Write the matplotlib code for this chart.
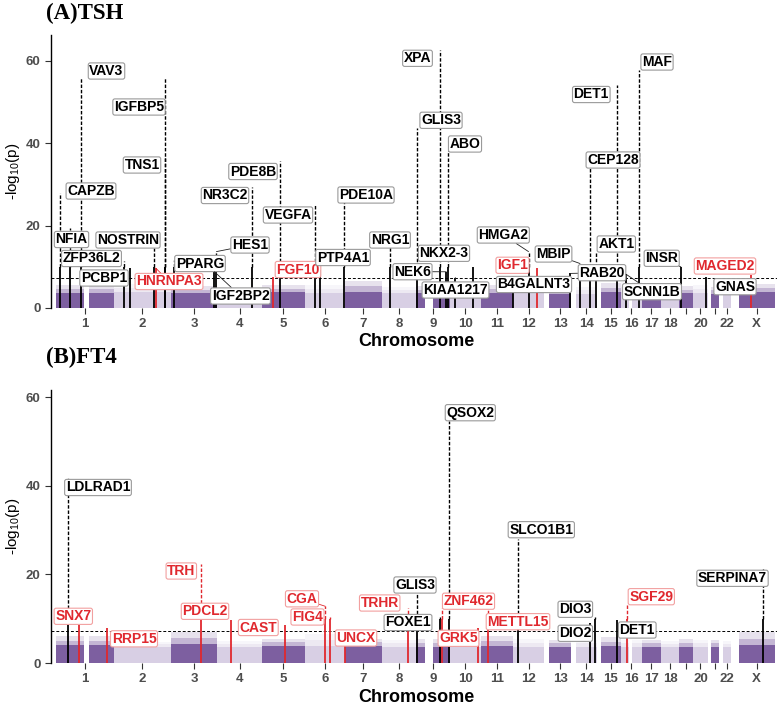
import matplotlib
matplotlib.use("Agg")
import matplotlib.pyplot as plt

plt.rcParams['font.family'] = ['Liberation Sans', 'DejaVu Sans']
plt.rcParams['mathtext.default'] = 'regular'

# ---------------- data ----------------
CHROMS = [str(i) for i in range(1, 23)] + ['X']
CHROM_TICK_LABELS = [str(i) for i in range(1, 19)] + ['', '20', '', '22', 'X']
CHROM_LEN_MB = [249.25, 243.20, 198.02, 191.15, 180.92, 171.12, 159.14, 146.36, 141.21,
                135.53, 135.01, 133.85, 115.17, 107.35, 102.53, 90.35, 81.20, 78.08,
                59.13, 63.03, 48.13, 51.30, 155.27]
CHROM_FIRST_MB = [0.75, 0.01, 0.06, 0.07, 0.01, 0.2, 0.04, 0.16, 0.2, 0.1, 0.19, 0.17,
                  19.0, 19.0, 20.0, 0.08, 0.05, 0.01, 0.26, 0.06, 14.5, 16.0, 2.7]
CENTROMERE_GAP_MB = {'1': (121.5, 142.5), '9': (38.5, 70.5), '16': (35.3, 46.5)}

# background SNP cloud: dense top and upper fringe (-log10 p) per chromosome
TSH_BAND_DENSE = [3.7, 3.9, 3.6, 3.5, 3.8, 3.7, 4.0, 3.6, 3.6, 3.7, 3.7, 3.6, 3.5,
                  3.5, 3.8, 3.9, 3.6, 3.5, 3.6, 3.7, 3.5, 3.5, 3.8]
TSH_BAND_TOP = [5.5, 5.8, 5.3, 5.0, 5.6, 5.5, 6.5, 5.0, 5.3, 5.5, 5.5, 5.3, 4.8,
                5.0, 6.0, 6.3, 5.3, 5.0, 5.3, 5.5, 5.0, 5.0, 5.8]
FT4_BAND_DENSE = [4.0, 3.6, 4.2, 3.6, 3.8, 3.9, 3.8, 3.6, 3.7, 3.7, 3.9, 3.7, 3.7,
                  3.7, 3.8, 3.7, 3.7, 3.6, 3.7, 3.6, 3.6, 3.5, 4.0]
FT4_BAND_TOP = [6.0, 4.8, 7.0, 5.0, 5.5, 6.5, 5.5, 5.2, 5.5, 5.5, 6.0, 5.5, 5.3,
                5.3, 5.8, 5.3, 5.3, 5.0, 5.5, 5.3, 5.3, 5.0, 7.0]

TSH_GENES = ['CAPZB', 'NFIA', 'VAV3', 'ZFP36L2', 'PCBP1', 'NOSTRIN', 'HNRNPA3', 'IGFBP5',
             'TNS1', 'PPARG', 'IGF2BP2', 'HES1', 'NR3C2', 'FGF10', 'PDE8B', 'VEGFA',
             'PTP4A1', 'PDE10A', 'NRG1', 'GLIS3', 'XPA', 'NEK6', 'ABO', 'KIAA1217',
             'NKX2-3', 'B4GALNT3', 'HMGA2', 'IGF1', 'RAB20', 'MBIP', 'CEP128', 'AKT1',
             'DET1', 'SCNN1B', 'MAF', 'INSR', 'GNAS', 'MAGED2']
TSH_CHR = ['1', '1', '1', '2', '2', '2', '2', '2', '2', '3', '3', '3', '4', '5', '5', '6',
           '6', '6', '8', '9', '9', '9', '9', '10', '10', '12', '12', '12', '13', '14',
           '14', '14', '15', '16', '16', '19', '20', 'X']
TSH_POS_MB = [19.7, 61.5, 108.3, 43.4, 70.3, 169.7, 178.1, 217.5, 218.7, 12.4, 185.4,
              193.9, 149.2, 44.3, 76.5, 43.7, 64.3, 165.9, 32.5, 4.1, 100.4, 127.1,
              136.1, 24.5, 101.3, 0.6, 66.2, 102.8, 111.2, 36.8, 81.2, 105.2, 89.1,
              23.3, 79.6, 7.2, 57.4, 54.8]
TSH_LOGP = [28.0, 19.4, 55.8, 11.3, 9.8, 14.5, 9.7, 55.9, 37.0, 11.6, 8.8, 13.7, 29.5,
            7.6, 35.8, 25.0, 9.2, 27.5, 14.9, 43.7, 62.7, 8.8, 38.0, 7.4, 9.9, 7.8,
            13.7, 9.7, 8.4, 10.8, 33.9, 13.7, 54.2, 8.2, 57.8, 10.0, 7.6, 8.0]
TSH_NOVEL = ['HNRNPA3', 'FGF10', 'IGF1', 'MAGED2']

FT4_GENES = ['LDLRAD1', 'SNX7', 'RRP15', 'TRH', 'PDCL2', 'CAST', 'CGA', 'FIG4', 'UNCX',
             'TRHR', 'GLIS3', 'FOXE1', 'ZNF462', 'QSOX2', 'GRK5', 'METTL15', 'SLCO1B1',
             'DIO2', 'DIO3', 'DET1', 'SGF29', 'SERPINA7']
FT4_CHR = ['1', '1', '1', '3', '4', '5', '6', '6', '7', '8', '9', '9', '9', '9', '10',
           '11', '12', '14', '14', '15', '16', 'X']
FT4_POS_MB = [54.5, 99.1, 218.5, 129.7, 56.1, 96.0, 87.8, 110.0, 1.3, 110.1, 4.1, 100.6,
              109.7, 139.1, 121.0, 28.2, 21.3, 80.7, 102.0, 89.1, 28.6, 105.3]
FT4_LOGP = [41.8, 8.5, 7.8, 22.4, 9.6, 8.5, 12.8, 10.4, 7.4, 12.3, 15.5, 10.4, 12.3,
            54.6, 7.9, 11.9, 28.0, 9.0, 10.4, 9.6, 13.0, 21.3]
FT4_NOVEL = ['SNX7', 'RRP15', 'TRH', 'PDCL2', 'CAST', 'CGA', 'FIG4', 'UNCX', 'TRHR',
             'ZNF462', 'GRK5', 'METTL15', 'SGF29']

GWAS_THRESHOLD = 7.3

# ---------------- layout ----------------
W, H = 777, 706
PX_PER_MB = 0.2345
PX_ORIGIN = 55.5
X_GAP_MB = 30.0
AX_LEFT_PX = 51

TSH_LABEL_PX = {
    'VAV3': (106.5, 71), 'IGFBP5': (139, 107), 'TNS1': (142, 165), 'CAPZB': (91, 191),
    'NFIA': (71.5, 239.5), 'NOSTRIN': (128, 240), 'ZFP36L2': (91.5, 258.5),
    'PCBP1': (104, 278), 'HNRNPA3': (169, 281.5), 'PPARG': (200, 263.5),
    'HES1': (250, 245), 'IGF2BP2': (240.5, 296), 'NR3C2': (225, 195.5),
    'PDE8B': (253, 171.5), 'VEGFA': (288, 215), 'FGF10': (298, 269.5),
    'PTP4A1': (343, 257.5), 'PDE10A': (366, 195), 'NRG1': (390, 240),
    'XPA': (417.5, 58.3), 'GLIS3': (441, 120.3), 'ABO': (465, 144),
    'NKX2-3': (444, 253.3), 'NEK6': (412.5, 271.7), 'KIAA1217': (455.5, 290),
    'HMGA2': (503.3, 235), 'IGF1': (512.5, 265.3), 'B4GALNT3': (534, 284.5),
    'MBIP': (553.5, 254), 'RAB20': (602, 272.7), 'AKT1': (616.3, 244),
    'SCNN1B': (652, 291.7), 'INSR': (661.7, 258.3), 'MAGED2': (725, 266),
    'GNAS': (735, 286.7), 'DET1': (591.3, 94.5), 'MAF': (657, 62),
    'CEP128': (613, 160),
}
FT4_LABEL_PX = {
    'LDLRAD1': (98, 487.5), 'SNX7': (73.3, 616.3), 'RRP15': (134, 638.8),
    'TRH': (181.3, 571), 'PDCL2': (205, 611.3), 'CAST': (258.3, 627.5),
    'CGA': (302, 598.8), 'FIG4': (307.5, 617), 'UNCX': (356, 638),
    'TRHR': (379.7, 603), 'GLIS3': (415, 585), 'FOXE1': (408, 622.5),
    'ZNF462': (468.5, 601.2), 'GRK5': (458.5, 638.3), 'METTL15': (518, 621.7),
    'QSOX2': (470.3, 412.7), 'SLCO1B1': (541.3, 529.7), 'DIO3': (575.3, 609.3),
    'DIO2': (575.3, 633.3), 'DET1': (637.3, 630), 'SGF29': (651.3, 596.7),
    'SERPINA7': (732.5, 578.3),
}
# labels whose reference shows a connector segment to the lead SNP
CONNECTED = {'HNRNPA3', 'HES1', 'IGF2BP2', 'NEK6', 'KIAA1217', 'HMGA2', 'MBIP',
             'RAB20', 'SCNN1B', 'INSR', 'ABO', 'CGA'}

DARK = '#7D5FA0'
LIGHT = '#D8CFE4'
RED = '#E0282E'
RED_EDGE = '#F2A0A0'
BOX_EDGE = '#9A9A9A'

offsets = []
acc = 0.0
for c, L in zip(CHROMS, CHROM_LEN_MB):
    if c == 'X':
        acc += X_GAP_MB
    offsets.append(acc)
    acc += L
CHR_OFFSET = dict(zip(CHROMS, offsets))
tick_pos = [o + (f + L) / 2 for o, f, L in zip(offsets, CHROM_FIRST_MB, CHROM_LEN_MB)]


def draw_panel(ax, ymax, dense, top, genes, chrs, pos, logp, novel, label_px):
    ax.set_xlim((AX_LEFT_PX - PX_ORIGIN) / PX_PER_MB, (W - PX_ORIGIN) / PX_PER_MB)
    ax.set_ylim(0, ymax)
    # background SNP cloud
    for i, c in enumerate(CHROMS):
        col = DARK if i % 2 == 0 else LIGHT
        segs = [(CHROM_FIRST_MB[i], CHROM_LEN_MB[i])]
        if c in CENTROMERE_GAP_MB:
            g0, g1 = CENTROMERE_GAP_MB[c]
            segs = [(CHROM_FIRST_MB[i], g0), (g1, CHROM_LEN_MB[i])]
        mid = (dense[i] + top[i]) / 2
        for s0, s1 in segs:
            xs = [offsets[i] + s0, offsets[i] + s1]
            ax.fill_between(xs, 0, dense[i], color=col, lw=0, zorder=1)
            ax.fill_between(xs, dense[i], mid, color=col, lw=0, alpha=0.45, zorder=1)
            ax.fill_between(xs, mid, top[i], color=col, lw=0, alpha=0.18, zorder=1)
    ax.axhline(GWAS_THRESHOLD, color='black', lw=0.7, ls=(0, (3, 2)), zorder=2)
    # loci
    for g, c, p, v in zip(genes, chrs, pos, logp):
        x = CHR_OFFSET[c] + p
        col = RED if g in novel else 'black'
        solid = min(v, 10.0)
        ax.vlines(x, 0, solid, color=col, lw=1.3, zorder=3)
        if v > solid:
            ax.vlines(x, solid, v, color=col, lw=1.0, linestyles=(0, (2.5, 1.3)), zorder=3)
    inv = ax.transData.inverted()
    for g, c, p, v in zip(genes, chrs, pos, logp):
        x = CHR_OFFSET[c] + p
        isred = g in novel
        lx, ly = inv.transform((label_px[g][0], H - label_px[g][1]))
        arrow = None
        if g in CONNECTED:
            arrow = dict(arrowstyle='-', color=RED if isred else '#222222',
                         lw=0.6, shrinkA=0, shrinkB=0)
        ax.annotate(g, xy=(x, v), xytext=(lx, ly), textcoords='data',
                    ha='center', va='center', fontsize=10, fontweight='bold',
                    color=RED if isred else 'black', zorder=6,
                    bbox=dict(boxstyle='round,pad=0.08,rounding_size=0.15',
                              fc='white', ec=RED_EDGE if isred else BOX_EDGE, lw=0.8),
                    arrowprops=arrow)
    # axes styling
    for s in ['top', 'right', 'bottom']:
        ax.spines[s].set_visible(False)
    ax.spines['left'].set_linewidth(1.0)
    ax.set_yticks([0, 20, 40, 60])
    ax.set_xticks(tick_pos)
    ax.set_xticklabels(CHROM_TICK_LABELS)
    ax.tick_params(axis='both', labelsize=9.5, labelcolor='#4D4D4D', length=4,
                   width=0.8, color='#333333')
    for t in ax.get_xticklabels() + ax.get_yticklabels():
        t.set_fontweight('bold')
    ax.set_ylabel('-log$_{10}$(p)', fontsize=11, va='center')
    ax.yaxis.set_label_coords((13 - AX_LEFT_PX) / (W - AX_LEFT_PX), 0.5)


fig = plt.figure(figsize=(W / 100, H / 100), dpi=100)
axA = fig.add_axes([AX_LEFT_PX / W, 1 - 308 / H, (W - AX_LEFT_PX) / W, (308 - 35) / H])
axB = fig.add_axes([AX_LEFT_PX / W, 1 - 663 / H, (W - AX_LEFT_PX) / W, (663 - 390) / H])

draw_panel(axA, 66.3, TSH_BAND_DENSE, TSH_BAND_TOP, TSH_GENES, TSH_CHR, TSH_POS_MB,
           TSH_LOGP, TSH_NOVEL, TSH_LABEL_PX)
draw_panel(axB, 61.6, FT4_BAND_DENSE, FT4_BAND_TOP, FT4_GENES, FT4_CHR, FT4_POS_MB,
           FT4_LOGP, FT4_NOVEL, FT4_LABEL_PX)

for ypx in (342, 697):
    fig.text(416 / W, 1 - ypx / H, 'Chromosome', ha='center', va='center',
             fontsize=13, fontweight='bold')
fig.text(46 / W, 1 - 19.5 / H, '(A)TSH', ha='left', va='baseline', fontsize=16.5,
         fontweight='bold', family=['Liberation Serif', 'DejaVu Serif'])
fig.text(46 / W, 1 - 363 / H, '(B)FT4', ha='left', va='baseline', fontsize=16.5,
         fontweight='bold', family=['Liberation Serif', 'DejaVu Serif'])

fig.savefig('out.png', dpi=100)
